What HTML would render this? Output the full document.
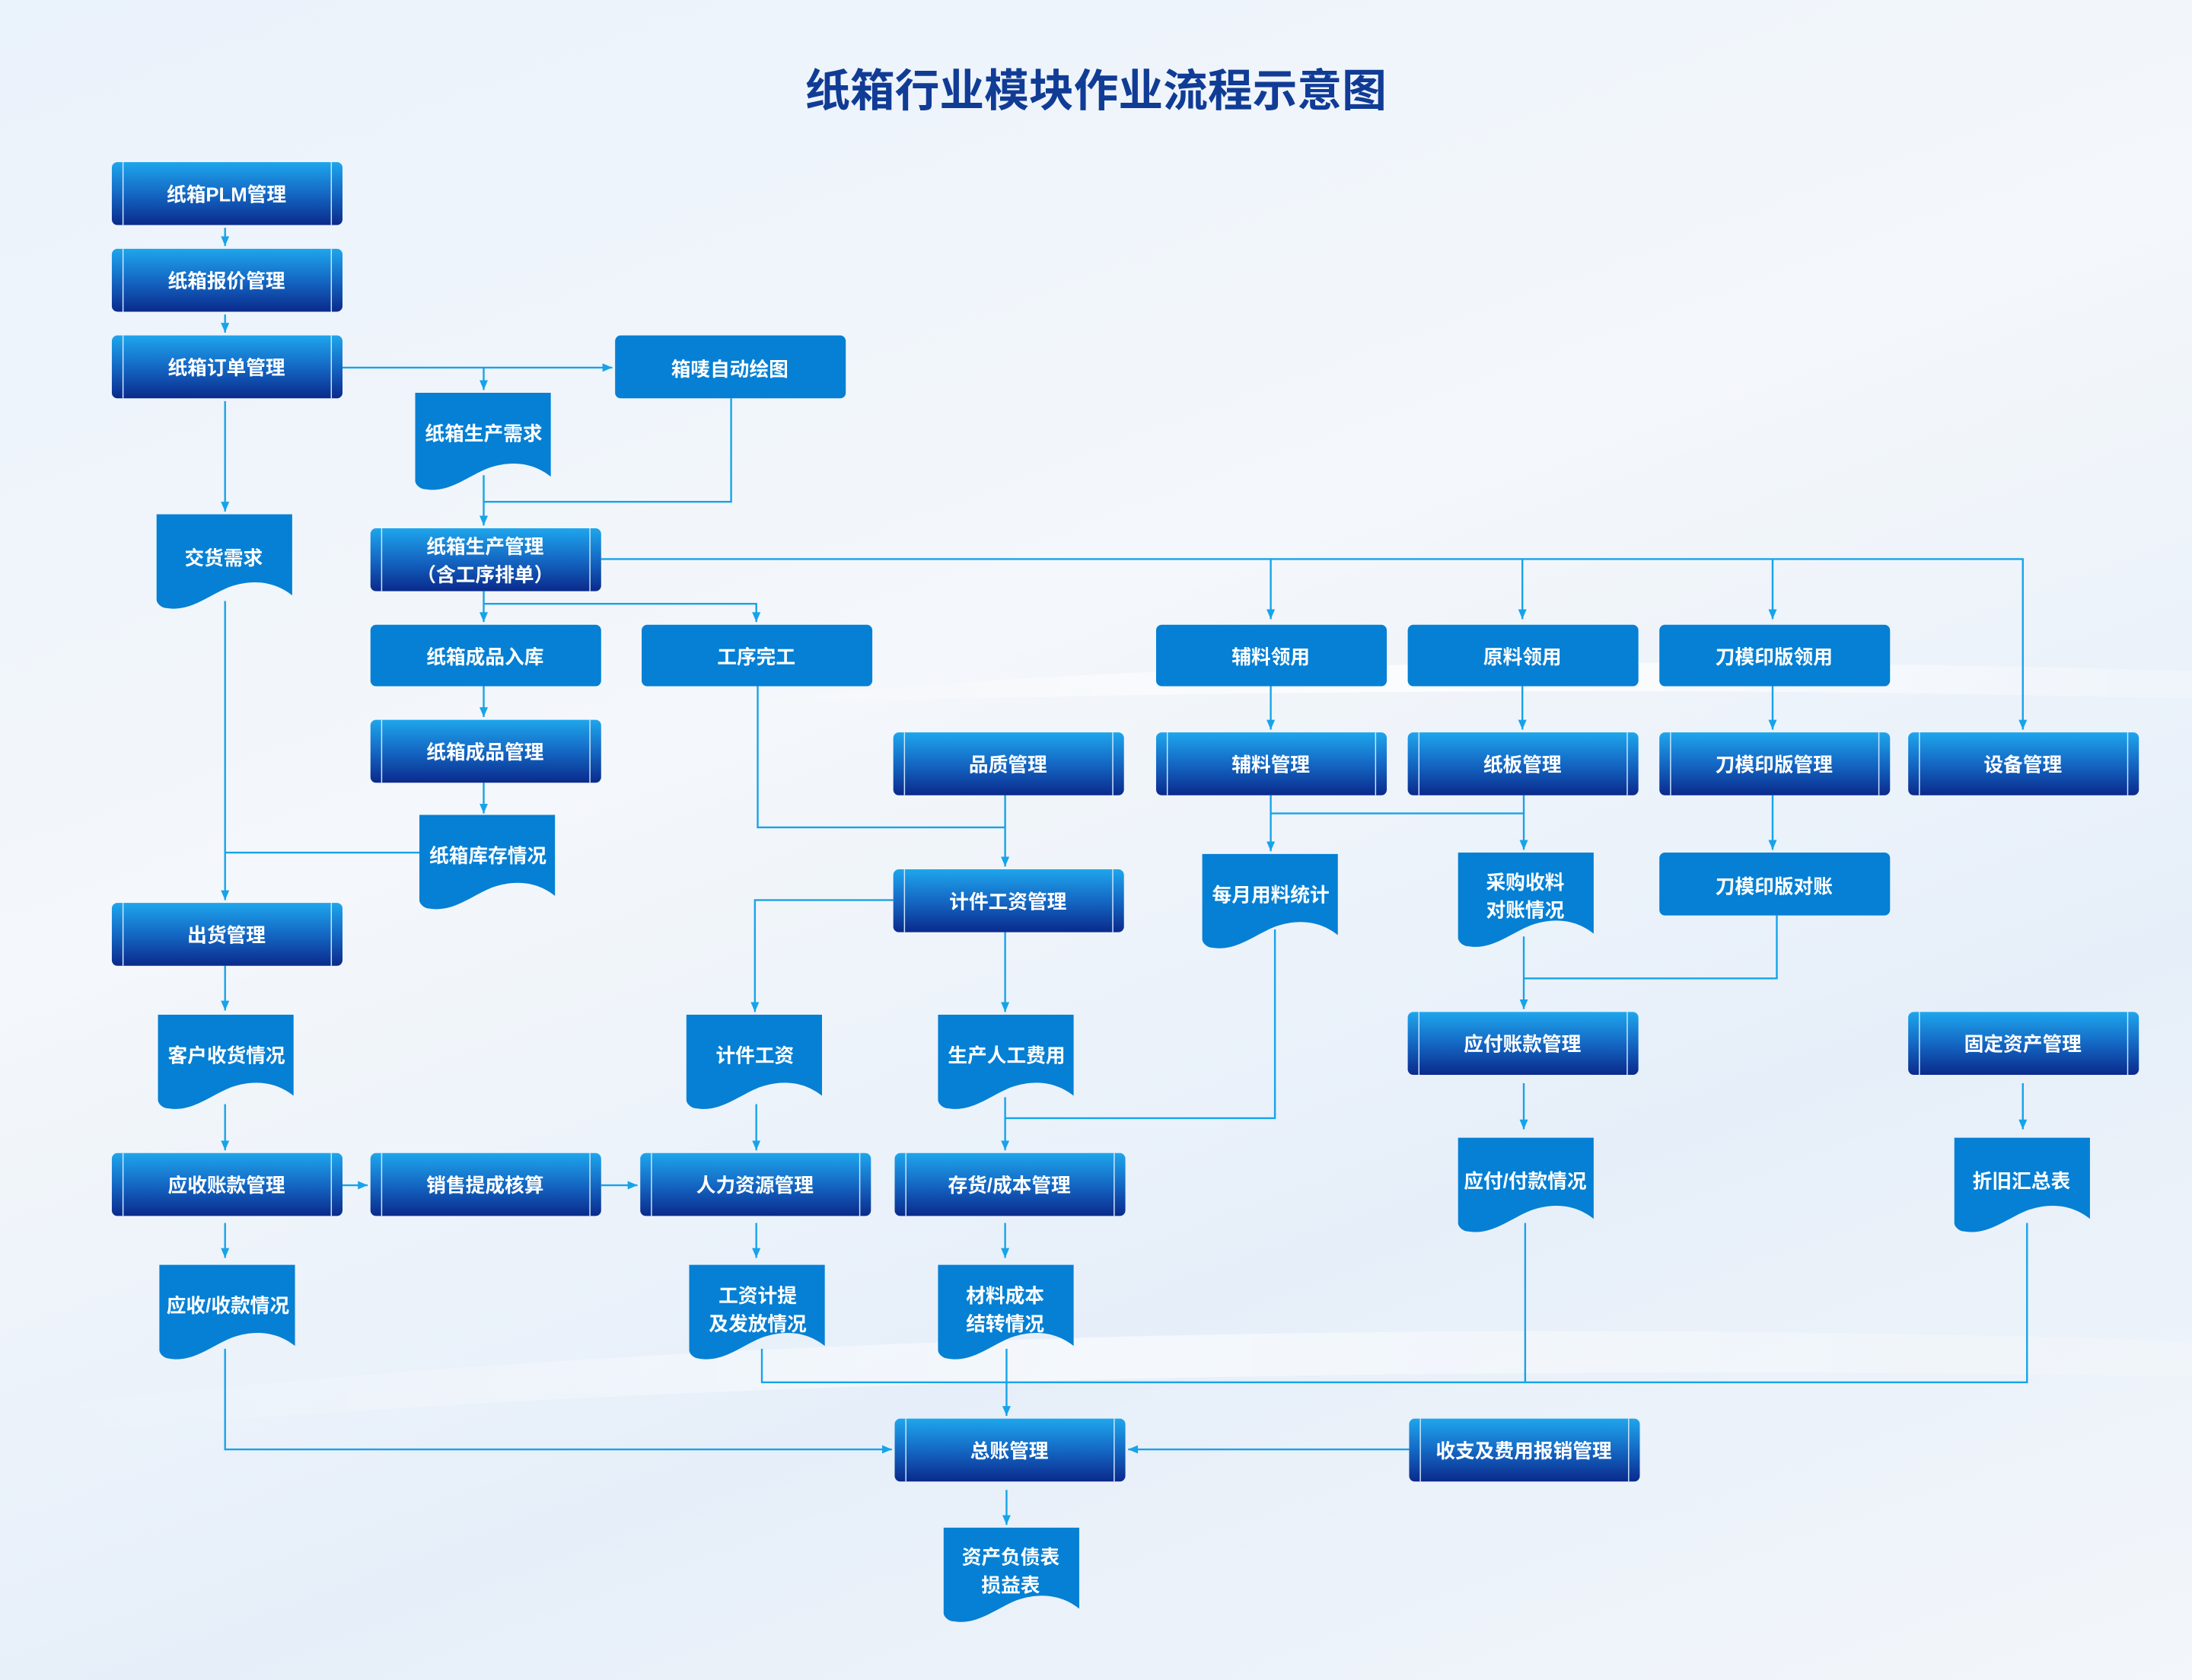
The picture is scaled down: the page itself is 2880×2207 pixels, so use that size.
<!DOCTYPE html>
<html><head><meta charset="utf-8"><style>
html,body{margin:0;padding:0;}
body{width:2880px;height:2207px;overflow:hidden;background:linear-gradient(160deg,#eaf2fb 0%,#f4f7fb 40%,#e6eff9 70%,#f3f6fa 100%);}
svg{display:block}
text{font-family:"Liberation Sans","Noto Sans CJK SC",sans-serif;font-weight:bold;}
</style></head><body>
<svg width="2880" height="2207" viewBox="0 0 1568 1202" preserveAspectRatio="none" xmlns="http://www.w3.org/2000/svg">
<defs>
<linearGradient id="pg" x1="0" y1="0" x2="0" y2="1"><stop offset="0" stop-color="#1ea6ec"/><stop offset="0.5" stop-color="#1468c4"/><stop offset="1" stop-color="#0a2a8c"/></linearGradient>
<linearGradient id="sw" x1="0" y1="0" x2="1" y2="0"><stop offset="0" stop-color="#fff" stop-opacity="0"/><stop offset="0.5" stop-color="#fff" stop-opacity="0.8"/><stop offset="1" stop-color="#fff" stop-opacity="0.2"/></linearGradient>
<marker id="a" markerWidth="8" markerHeight="8" refX="7" refY="4" orient="auto" markerUnits="userSpaceOnUse"><path d="M0,1 L7,4 L0,7 Z" fill="#16a3ea"/></marker>
</defs>
<path d="M500,505 C800,470 1200,470 1568,480 L1568,500 C1200,490 800,495 500,505Z" fill="url(#sw)"/>
<path d="M0,1010 C400,960 1000,940 1568,960 L1568,985 C1000,975 400,990 0,1030Z" fill="url(#sw)" opacity="0.7"/>
<text x="784" y="76" text-anchor="middle" font-size="32" fill="#103c96">纸箱行业模块作业流程示意图</text>

<g fill="none" stroke="#16a3ea" stroke-width="1.3">
<path d="M161,163V176" marker-end="url(#a)"/>
<path d="M161,225V238" marker-end="url(#a)"/>
<path d="M245,263H438" marker-end="url(#a)"/>
<path d="M346,263V279" marker-end="url(#a)"/>
<path d="M161,287V366" marker-end="url(#a)"/>
<path d="M523,285V359H346"/>
<path d="M346,340V376" marker-end="url(#a)"/>
<path d="M430,400H1447V522" marker-end="url(#a)"/>
<path d="M909,400V443" marker-end="url(#a)"/>
<path d="M1089,400V443" marker-end="url(#a)"/>
<path d="M1268,400V443" marker-end="url(#a)"/>
<path d="M346,423V445" marker-end="url(#a)"/>
<path d="M346,432H541V445" marker-end="url(#a)"/>
<path d="M346,491V513" marker-end="url(#a)"/>
<path d="M346,560V582" marker-end="url(#a)"/>
<path d="M161,430V644" marker-end="url(#a)"/>
<path d="M300,610H161"/>
<path d="M542,491V592H719"/>
<path d="M719,569V620" marker-end="url(#a)"/>
<path d="M909,491V522" marker-end="url(#a)"/>
<path d="M1089,491V522" marker-end="url(#a)"/>
<path d="M1268,491V522" marker-end="url(#a)"/>
<path d="M909,569V609" marker-end="url(#a)"/>
<path d="M909,582H1090"/>
<path d="M1090,569V608" marker-end="url(#a)"/>
<path d="M1268,569V608" marker-end="url(#a)"/>
<path d="M1090,670V722" marker-end="url(#a)"/>
<path d="M1271,655V700H1090"/>
<path d="M639,644H540V724" marker-end="url(#a)"/>
<path d="M719,667V724" marker-end="url(#a)"/>
<path d="M912,665V800H719"/>
<path d="M719,785V823" marker-end="url(#a)"/>
<path d="M161,691V723" marker-end="url(#a)"/>
<path d="M161,790V823" marker-end="url(#a)"/>
<path d="M541,790V823" marker-end="url(#a)"/>
<path d="M245,848H263" marker-end="url(#a)"/>
<path d="M430,848H456" marker-end="url(#a)"/>
<path d="M1090,775V808" marker-end="url(#a)"/>
<path d="M1447,775V808" marker-end="url(#a)"/>
<path d="M161,875V900" marker-end="url(#a)"/>
<path d="M541,875V900" marker-end="url(#a)"/>
<path d="M719,875V900" marker-end="url(#a)"/>
<path d="M161,965V1037H638" marker-end="url(#a)"/>
<path d="M545,965V989H1450V875"/>
<path d="M1091,875V989"/>
<path d="M720,965V1013" marker-end="url(#a)"/>
<path d="M1008,1037H807" marker-end="url(#a)"/>
<path d="M720,1066V1091" marker-end="url(#a)"/>
</g>

<g font-size="14" fill="#fff" text-anchor="middle">
<g>
<rect x="80" y="116" width="165" height="45" rx="4" fill="url(#pg)"/><path d="M88,116V161M237,116V161" stroke="#cfe6fa" stroke-width="0.8"/><text x="162" y="144">纸箱PLM管理</text>
<rect x="80" y="178" width="165" height="45" rx="4" fill="url(#pg)"/><path d="M88,178V223M237,178V223" stroke="#cfe6fa" stroke-width="0.8"/><text x="162" y="206">纸箱报价管理</text>
<rect x="80" y="240" width="165" height="45" rx="4" fill="url(#pg)"/><path d="M88,240V285M237,240V285" stroke="#cfe6fa" stroke-width="0.8"/><text x="162" y="268">纸箱订单管理</text>
<rect x="265" y="378" width="165" height="45" rx="4" fill="url(#pg)"/><path d="M273,378V423M422,378V423" stroke="#cfe6fa" stroke-width="0.8"/><text x="347" y="396">纸箱生产管理</text><text x="347" y="416">（含工序排单）</text>
<rect x="265" y="515" width="165" height="45" rx="4" fill="url(#pg)"/><path d="M273,515V560M422,515V560" stroke="#cfe6fa" stroke-width="0.8"/><text x="347" y="543">纸箱成品管理</text>
<rect x="639" y="524" width="165" height="45" rx="4" fill="url(#pg)"/><path d="M647,524V569M796,524V569" stroke="#cfe6fa" stroke-width="0.8"/><text x="721" y="552">品质管理</text>
<rect x="827" y="524" width="165" height="45" rx="4" fill="url(#pg)"/><path d="M835,524V569M984,524V569" stroke="#cfe6fa" stroke-width="0.8"/><text x="909" y="552">辅料管理</text>
<rect x="1007" y="524" width="165" height="45" rx="4" fill="url(#pg)"/><path d="M1015,524V569M1164,524V569" stroke="#cfe6fa" stroke-width="0.8"/><text x="1089" y="552">纸板管理</text>
<rect x="1187" y="524" width="165" height="45" rx="4" fill="url(#pg)"/><path d="M1195,524V569M1344,524V569" stroke="#cfe6fa" stroke-width="0.8"/><text x="1269" y="552">刀模印版管理</text>
<rect x="1365" y="524" width="165" height="45" rx="4" fill="url(#pg)"/><path d="M1373,524V569M1522,524V569" stroke="#cfe6fa" stroke-width="0.8"/><text x="1447" y="552">设备管理</text>
<rect x="80" y="646" width="165" height="45" rx="4" fill="url(#pg)"/><path d="M88,646V691M237,646V691" stroke="#cfe6fa" stroke-width="0.8"/><text x="162" y="674">出货管理</text>
<rect x="639" y="622" width="165" height="45" rx="4" fill="url(#pg)"/><path d="M647,622V667M796,622V667" stroke="#cfe6fa" stroke-width="0.8"/><text x="721" y="650">计件工资管理</text>
<rect x="1007" y="724" width="165" height="45" rx="4" fill="url(#pg)"/><path d="M1015,724V769M1164,724V769" stroke="#cfe6fa" stroke-width="0.8"/><text x="1089" y="752">应付账款管理</text>
<rect x="1365" y="724" width="165" height="45" rx="4" fill="url(#pg)"/><path d="M1373,724V769M1522,724V769" stroke="#cfe6fa" stroke-width="0.8"/><text x="1447" y="752">固定资产管理</text>
<rect x="80" y="825" width="165" height="45" rx="4" fill="url(#pg)"/><path d="M88,825V870M237,825V870" stroke="#cfe6fa" stroke-width="0.8"/><text x="162" y="853">应收账款管理</text>
<rect x="265" y="825" width="165" height="45" rx="4" fill="url(#pg)"/><path d="M273,825V870M422,825V870" stroke="#cfe6fa" stroke-width="0.8"/><text x="347" y="853">销售提成核算</text>
<rect x="458" y="825" width="165" height="45" rx="4" fill="url(#pg)"/><path d="M466,825V870M615,825V870" stroke="#cfe6fa" stroke-width="0.8"/><text x="540" y="853">人力资源管理</text>
<rect x="640" y="825" width="165" height="45" rx="4" fill="url(#pg)"/><path d="M648,825V870M797,825V870" stroke="#cfe6fa" stroke-width="0.8"/><text x="722" y="853">存货/成本管理</text>
<rect x="640" y="1015" width="165" height="45" rx="4" fill="url(#pg)"/><path d="M648,1015V1060M797,1015V1060" stroke="#cfe6fa" stroke-width="0.8"/><text x="722" y="1043">总账管理</text>
<rect x="1008" y="1015" width="165" height="45" rx="4" fill="url(#pg)"/><path d="M1016,1015V1060M1165,1015V1060" stroke="#cfe6fa" stroke-width="0.8"/><text x="1090" y="1043">收支及费用报销管理</text>
</g>
<g>
<rect x="440" y="240" width="165" height="45" rx="4" fill="#0580d4"/><text x="522" y="269">箱唛自动绘图</text>
<rect x="265" y="447" width="165" height="44" rx="4" fill="#0580d4"/><text x="347" y="475">纸箱成品入库</text>
<rect x="459" y="447" width="165" height="44" rx="4" fill="#0580d4"/><text x="541" y="475">工序完工</text>
<rect x="827" y="447" width="165" height="44" rx="4" fill="#0580d4"/><text x="909" y="475">辅料领用</text>
<rect x="1007" y="447" width="165" height="44" rx="4" fill="#0580d4"/><text x="1089" y="475">原料领用</text>
<rect x="1187" y="447" width="165" height="44" rx="4" fill="#0580d4"/><text x="1269" y="475">刀模印版领用</text>
<rect x="1187" y="610" width="165" height="45" rx="4" fill="#0580d4"/><text x="1269" y="639">刀模印版对账</text>
</g>
<g fill="#0580d4">
<path d="M297,281h97v60c-10,-8 -25,-13 -45,-6c-15,6 -28,18 -45,15c-3,0 -7,-3 -7,-6Z"/>
<path d="M112,368h97v58c-10,-8 -25,-13 -45,-6c-15,6 -28,18 -45,15c-3,0 -7,-3 -7,-6Z"/>
<path d="M300,583h97v58c-10,-8 -25,-13 -45,-6c-15,6 -28,18 -45,15c-3,0 -7,-3 -7,-6Z"/>
<path d="M860,611h97v58c-10,-8 -25,-13 -45,-6c-15,6 -28,18 -45,15c-3,0 -7,-3 -7,-6Z"/>
<path d="M1043,610h97v58c-10,-8 -25,-13 -45,-6c-15,6 -28,18 -45,15c-3,0 -7,-3 -7,-6Z"/>
<path d="M113,726h97v58c-10,-8 -25,-13 -45,-6c-15,6 -28,18 -45,15c-3,0 -7,-3 -7,-6Z"/>
<path d="M491,726h97v58c-10,-8 -25,-13 -45,-6c-15,6 -28,18 -45,15c-3,0 -7,-3 -7,-6Z"/>
<path d="M671,726h97v58c-10,-8 -25,-13 -45,-6c-15,6 -28,18 -45,15c-3,0 -7,-3 -7,-6Z"/>
<path d="M1043,814h97v58c-10,-8 -25,-13 -45,-6c-15,6 -28,18 -45,15c-3,0 -7,-3 -7,-6Z"/>
<path d="M1398,814h97v58c-10,-8 -25,-13 -45,-6c-15,6 -28,18 -45,15c-3,0 -7,-3 -7,-6Z"/>
<path d="M114,905h97v58c-10,-8 -25,-13 -45,-6c-15,6 -28,18 -45,15c-3,0 -7,-3 -7,-6Z"/>
<path d="M493,905h97v58c-10,-8 -25,-13 -45,-6c-15,6 -28,18 -45,15c-3,0 -7,-3 -7,-6Z"/>
<path d="M671,905h97v58c-10,-8 -25,-13 -45,-6c-15,6 -28,18 -45,15c-3,0 -7,-3 -7,-6Z"/>
<path d="M675,1093h97v58c-10,-8 -25,-13 -45,-6c-15,6 -28,18 -45,15c-3,0 -7,-3 -7,-6Z"/>
</g>
<text x="346" y="315">纸箱生产需求</text>
<text x="160" y="404">交货需求</text>
<text x="349" y="617">纸箱库存情况</text>
<text x="909" y="645">每月用料统计</text>
<text x="1091" y="636">采购收料</text><text x="1091" y="656">对账情况</text>
<text x="162" y="760">客户收货情况</text>
<text x="540" y="760">计件工资</text>
<text x="720" y="760">生产人工费用</text>
<text x="1091" y="850">应付/付款情况</text>
<text x="1446" y="850">折旧汇总表</text>
<text x="163" y="939">应收/收款情况</text>
<text x="542" y="932">工资计提</text><text x="542" y="952">及发放情况</text>
<text x="719" y="932">材料成本</text><text x="719" y="952">结转情况</text>
<text x="723" y="1119">资产负债表</text><text x="723" y="1139">损益表</text>
</g>
</svg>
</body></html>
